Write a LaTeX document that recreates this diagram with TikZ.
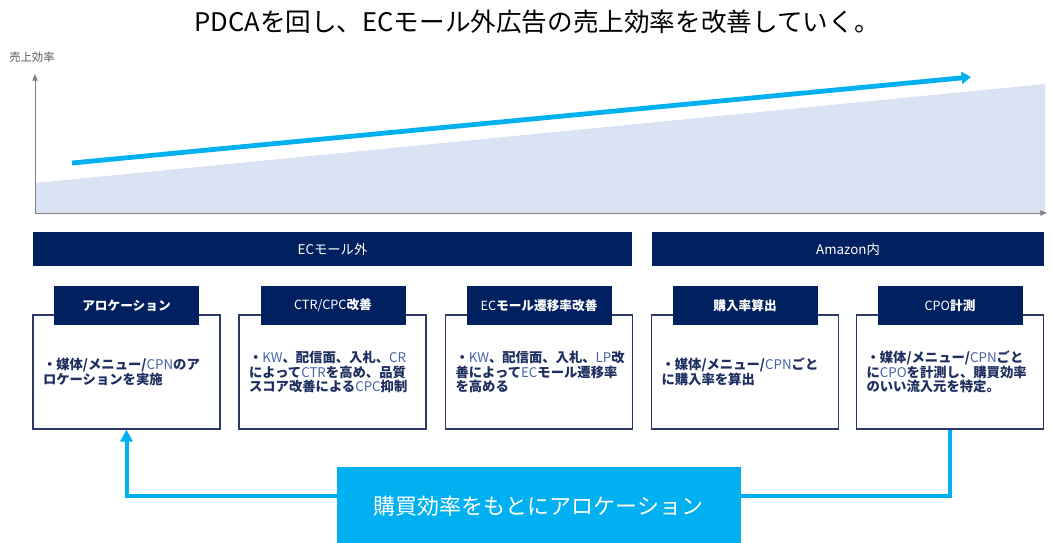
\documentclass[tikz,border=0pt]{standalone}
\usepackage{fontspec}
\setmainfont{Noto Sans CJK JP}
\usetikzlibrary{arrows.meta,calc}
\definecolor{navy}{HTML}{002060}
\definecolor{boxc}{HTML}{2B3A67}
\definecolor{txtc}{HTML}{1F3060}
\definecolor{latc}{HTML}{4A64A8}
\definecolor{cyanc}{HTML}{00B0F0}
\definecolor{shadec}{HTML}{DAE3F3}
\definecolor{axisc}{HTML}{808080}
\newcommand{\lt}[1]{{\mdseries\color{latc}#1}}
\tikzset{
  bar/.style={fill=navy, text=white, minimum height=25.5pt, inner sep=0pt, font=\fontsize{10}{11}\selectfont},
  card/.style={draw=boxc, line width=0.9pt, fill=white, minimum height=85.5pt, text width=125.25pt,
    inner xsep=7.5pt, align=left, text=txtc, font=\fontsize{10}{11.1}\selectfont\bfseries},
  tab/.style={fill=navy, text=white, minimum width=108.75pt, minimum height=29.25pt, inner sep=0pt,
    font=\fontsize{9.5}{11}\selectfont\bfseries},
  feed/.style={draw=cyanc, line width=3pt},
}
\begin{document}
\begin{tikzpicture}[x=0.75pt,y=-0.75pt]
\useasboundingbox (0,0) rectangle (1051,543);
% title
\node (title) at (537,22) {\fontsize{19.2}{21}\selectfont PDCAを回し、ECモール外広告の売上効率を改善していく。};
\node[anchor=west, text=black!65, font=\fontsize{8.5}{10}\selectfont, inner sep=0pt] (ylab) at (9,57) {売上効率};
% chart
\coordinate (o) at (35,213);
\coordinate (ytop) at (35,74);
\coordinate (xend) at (1047,213);
\fill[shadec] (35,183) -- (1045,84) -- (1045,213) -- (35,213) -- cycle;
\draw[axisc, line width=0.6pt, -{Triangle[length=5pt,width=4pt]}] (o) -- (ytop);
\draw[axisc, line width=0.6pt, -{Triangle[length=5pt,width=4pt]}] (o) -- (xend);
\coordinate (a1) at (72,163);
\coordinate (a2) at (971,77);
\draw[cyanc, line width=3.6pt, -{Triangle[length=7pt,width=9pt]}] (a1) -- (a2);
% section bars
\node[bar, minimum width=449.25pt] (ec) at (332.5,249) {ECモール外};
\node[bar, minimum width=294pt] (amz) at (848,249) {Amazon内};
% cards
\node[card] (b1) at (126.5,372) {・媒体/メニュー/\lt{CPN}のア\\ロケーションを実施};
\node[card] (b2) at (332.5,372) {・\lt{KW}、配信面、入札、\lt{CR}\\によって\lt{CTR}を高め、品質\\スコア改善による\lt{CPC}抑制};
\node[card] (b3) at (539,372) {・\lt{KW}、配信面、入札、\lt{LP}改\\善によって\lt{EC}モール遷移率\\を高める};
\node[card] (b4) at (745,372) {・媒体/メニュー/\lt{CPN}ごと\\に購入率を算出};
\node[card] (b5) at (950,372) {・媒体/メニュー/\lt{CPN}ごと\\に\lt{CPO}を計測し、購買効率\\のいい流入元を特定。};
% tabs
\node[tab] (t1) at (126.5,305.5) {アロケーション};
\node[tab] (t2) at (333,305.5) {{\mdseries CTR/CPC}改善};
\node[tab] (t3) at (539,305.5) {{\mdseries EC}モール遷移率改善};
\node[tab] (t4) at (745,305.5) {購入率算出};
\node[tab] (t5) at (950,305.5) {{\mdseries CPO}計測};
% feedback
\coordinate (fR) at (740,496);
\coordinate (fL) at (337,496);
\draw[feed] (b5.south) |- (fR);
\draw[feed, -{Triangle[length=9pt,width=9pt]}] (fL) -| (b1.south);
\node[fill=cyanc, text=white, minimum width=303pt, minimum height=59pt, inner sep=0pt,
  font=\fontsize{16.5}{18}\selectfont] (fb) at (538.5,506) {購買効率をもとにアロケーション};
\end{tikzpicture}
\end{document}
